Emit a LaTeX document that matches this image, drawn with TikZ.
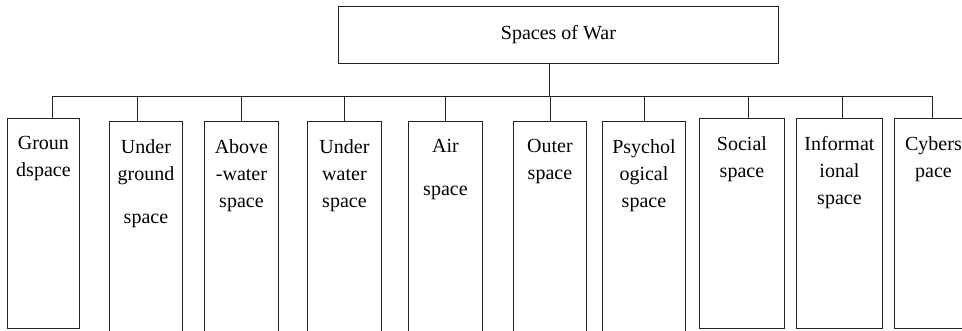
\documentclass[tikz,border=0pt]{standalone}
\usepackage{fontspec}
\setmainfont{Liberation Serif}
\usetikzlibrary{positioning,calc}
\definecolor{warLine}{RGB}{35,35,35}

\begin{document}
\begin{tikzpicture}[x=1pt,y=-1pt,font=\fontsize{20}{27}\selectfont,
    spacebox/.style={draw=warLine,line width=0.9pt,anchor=north west,inner sep=0pt},
    boxtext/.style={anchor=north,align=center,inner sep=0pt},
    link/.style={draw=warLine,line width=0.9pt}]
    \useasboundingbox (0,0) rectangle (962,330);
    \clip (0,0) rectangle (962,330);

    \node[spacebox,minimum width=440pt,minimum height=57pt] (war) at (338,6) {Spaces of War};

    \node[spacebox,minimum width=72pt,minimum height=210pt] (ground) at (7,118) {};
    \node[spacebox,minimum width=73pt,minimum height=220pt] (under) at (109,121) {};
    \node[spacebox,minimum width=74pt,minimum height=220pt] (above) at (204,121) {};
    \node[spacebox,minimum width=74pt,minimum height=220pt] (water) at (307,121) {};
    \node[spacebox,minimum width=74pt,minimum height=220pt] (air) at (408,121) {};
    \node[spacebox,minimum width=73pt,minimum height=220pt] (outer) at (513,121) {};
    \node[spacebox,minimum width=83pt,minimum height=220pt] (psych) at (602,121) {};
    \node[spacebox,minimum width=85pt,minimum height=210pt] (social) at (699,118) {};
    \node[spacebox,minimum width=86pt,minimum height=210pt] (info) at (796,118) {};
    \node[spacebox,minimum width=78pt,minimum height=210pt] (cyber) at (894,118) {};

    % labels sit at the top of each box
    \node[boxtext,text width=72pt] (ground-t) at ([yshift=-18pt]ground.north) {Groun\\dspace};
    \node[boxtext,text width=73pt] (under-t) at ([yshift=-18pt]under.north) {Under\\ground\\[16pt]space};
    \node[boxtext,text width=74pt] (above-t) at ([yshift=-18pt]above.north) {Above\\-water\\space};
    \node[boxtext,text width=74pt] (water-t) at ([yshift=-18pt]water.north) {Under\\water\\space};
    \node[boxtext,text width=74pt] (air-t) at ([yshift=-18pt]air.north) {Air\\[16pt]space};
    \node[boxtext,text width=73pt] (outer-t) at ([yshift=-18pt]outer.north) {Outer\\space};
    \node[boxtext,text width=83pt] (psych-t) at ([yshift=-18pt]psych.north) {Psychol\\ogical\\space};
    \node[boxtext,text width=85pt] (social-t) at ([yshift=-18pt]social.north) {Social\\space};
    \node[boxtext,text width=86pt] (info-t) at ([yshift=-18pt]info.north) {Informat\\ional\\space};
    \node[boxtext,text width=78pt] (cyber-t) at ([yshift=-18pt]cyber.north) {Cybers\\pace};

    \coordinate (bus) at (0,96);
    \draw[link] ([xshift=-9pt]war.south) -- ([xshift=-9pt]war.south |- bus);
    \draw[link] ([xshift=9pt]ground.north |- bus) -- ([xshift=-1pt]cyber.north |- bus);
    \draw[link] ([xshift=9pt]ground.north) -- ([xshift=9pt]ground.north |- bus);
    \draw[link] ([xshift=-8.5pt]under.north) -- ([xshift=-8.5pt]under.north |- bus);
    \draw[link] (above.north) -- (above.north |- bus);
    \draw[link] (water.north) -- (water.north |- bus);
    \draw[link] (air.north) -- (air.north |- bus);
    \draw[link] (outer.north) -- (outer.north |- bus);
    \draw[link] (psych.north) -- (psych.north |- bus);
    \draw[link] ([xshift=6.5pt]social.north) -- ([xshift=6.5pt]social.north |- bus);
    \draw[link] ([xshift=3pt]info.north) -- ([xshift=3pt]info.north |- bus);
    \draw[link] ([xshift=-1pt]cyber.north) -- ([xshift=-1pt]cyber.north |- bus);
\end{tikzpicture}
\end{document}
